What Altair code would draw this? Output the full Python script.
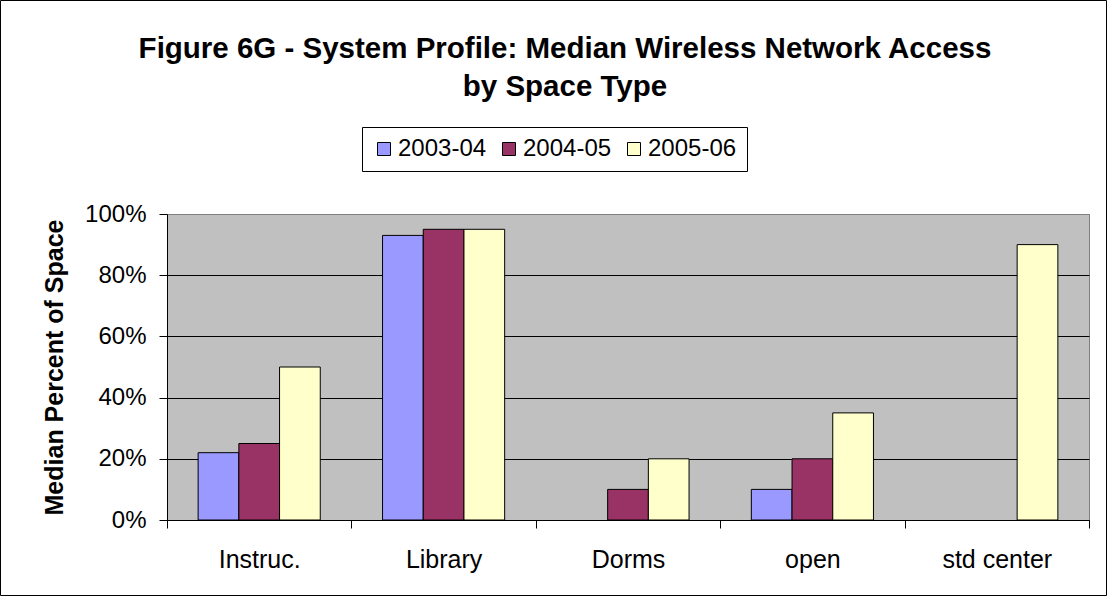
import altair as alt
import pandas as pd

# Median share of space with wireless access, by space type and year
categories = ["Instruc.", "Library", "Dorms", "open", "std center"]
years = ["2003-04", "2004-05", "2005-06"]
v_2003_04 = [0.22, 0.93, None, 0.10, None]
v_2004_05 = [0.25, 0.95, 0.10, 0.20, None]
v_2005_06 = [0.50, 0.95, 0.20, 0.35, 0.90]
year_colors = ["#9999FF", "#993366", "#FFFFCC"]

rows = []
for year, values in zip(years, [v_2003_04, v_2004_05, v_2005_06]):
    for cat, val in zip(categories, values):
        if val is not None:
            rows.append({"space": cat, "year": year, "value": val})
df = pd.DataFrame(rows)

FONT = "Liberation Sans"

bars = alt.Chart(df).mark_bar(stroke="black", strokeWidth=1).encode(
    x=alt.X(
        "space:N",
        sort=categories,
        scale=alt.Scale(paddingInner=0, paddingOuter=0),
        axis=alt.Axis(
            title=None,
            tickBand="extent",
            labelAngle=0,
            labelFont=FONT,
            labelFontSize=25,
            labelColor="black",
            labelBaseline="alphabetic",
            labelPadding=39,
            tickSize=8,
            tickColor="black",
            domainColor="black",
            grid=False,
        ),
    ),
    xOffset=alt.XOffset(
        "year:N", sort=years, scale=alt.Scale(paddingInner=0, paddingOuter=0.765)
    ),
    y=alt.Y(
        "value:Q",
        scale=alt.Scale(domain=[0, 1]),
        axis=alt.Axis(
            format="%",
            values=[0, 0.2, 0.4, 0.6, 0.8, 1.0],
            title="Median Percent of Space",
            titleFont=FONT,
            titleFontSize=25,
            titleFontWeight="bold",
            titleColor="black",
            titleAngle=270,
            titleAlign="center",
            titleBaseline="alphabetic",
            titleX=-105,
            titleY=153,
            labelFont=FONT,
            labelFontSize=24,
            labelColor="black",
            labelPadding=13,
            tickSize=8,
            tickColor="black",
            domainColor="black",
            grid=True,
            gridColor=alt.condition(
                "datum.value >= 1", alt.value("#808080"), alt.value("#000000")
            ),
            gridWidth=1,
        ),
    ),
    color=alt.Color(
        "year:N",
        scale=alt.Scale(domain=years, range=year_colors),
        legend=alt.Legend(
            title=None,
            orient="none",
            legendX=195,
            legendY=-87,
            direction="horizontal",
            fillColor="white",
            strokeColor="black",
            padding=10,
            symbolType="square",
            symbolSize=169,
            symbolStrokeColor="black",
            symbolStrokeWidth=1,
            symbolOpacity=1,
            labelFont=FONT,
            labelFontSize=24,
            labelColor="black",
            labelOffset=2,
            labelLimit=200,
            columnPadding=10,
        ),
    ),
)

# Thin frame around the whole figure
frame = alt.Chart(pd.DataFrame({"k": [0]})).mark_rect(
    fill=None, stroke="black", strokeWidth=1
).encode(
    x=alt.value(-166.5),
    x2=alt.value(939.5),
    y=alt.value(-213.5),
    y2=alt.value(381.5),
)

chart = alt.layer(bars, frame).properties(
    width=922,
    height=306,
    autosize=alt.AutoSizeParams(type="none"),
    padding={"left": 167, "top": 214, "right": 18, "bottom": 76},
    title=alt.TitleParams(
        text=[
            "Figure 6G - System Profile: Median Wireless Network Access",
            "by Space Type",
        ],
        font=FONT,
        fontSize=29.5,
        fontWeight="bold",
        color="black",
        anchor="middle",
        baseline="top",
        offset=0,
        dx=-63,
        dy=102,
        lineHeight=38,
    ),
).configure(
    background="white"
).configure_view(
    fill="#C0C0C0", stroke="#808080"
)

chart.save("out.html", embed_options={"renderer": "svg", "actions": False})
